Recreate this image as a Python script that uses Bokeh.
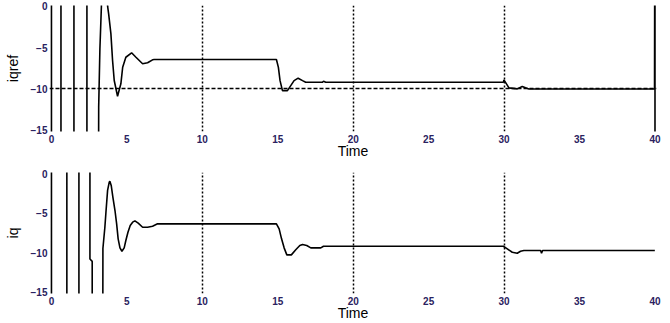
from bokeh.plotting import figure
from bokeh.layouts import column
from bokeh.models import Range1d, FixedTicker
from bokeh.embed import file_html
from bokeh.resources import INLINE

# ---- data ----
time_iqref = [0.0, 0.0, 0.63, 0.63, 1.49, 1.49, 2.35, 2.35, 3.10, 3.13,
              3.21, 3.31, 3.40, 3.62, 3.72, 3.79, 3.94, 4.05, 4.16, 4.38,
              4.60, 4.72, 4.93, 5.31, 5.60, 6.04, 6.37, 6.70, 6.81, 14.91,
              15.04, 15.15, 15.31, 15.64, 15.86, 16.08, 16.35, 16.64, 16.85, 17.95,
              18.03, 18.18, 29.95, 29.99, 30.32, 30.87, 31.20, 31.42, 31.64, 39.97,
              40.0, 40.0]
iqref = [-40, 40, 40, -40, -40, 40, 40, -40, -40, -12.2,
         -5.2, 0.0, 20, 20, 0.0, -0.92, -3.34, -6.57, -8.98, -10.88,
         -9.38, -7.38, -6.17, -5.63, -6.17, -6.96, -6.84, -6.48, -6.44, -6.44,
         -7.4, -9.0, -10.2, -10.2, -9.6, -9.0, -8.7, -9.0, -9.2, -9.2,
         -9.07, -9.2, -9.2, -8.9, -9.87, -9.99, -9.71, -9.87, -10.0, -10.0,
         30, -40]

time_iq = [0.0, 0.0, 1.02, 1.02, 1.82, 1.82, 2.54, 2.55, 2.55, 2.70,
           2.70, 2.71, 3.39, 3.41, 3.54, 3.61, 3.72, 3.83, 3.87, 3.96,
           4.07, 4.21, 4.32, 4.42, 4.54, 4.67, 4.82, 4.93, 5.07, 5.22,
           5.38, 5.53, 5.75, 6.04, 6.37, 6.70, 7.03, 14.91, 15.09, 15.25,
           15.42, 15.60, 15.90, 16.19, 16.46, 16.64, 16.92, 17.19, 17.85, 18.03,
           29.95, 30.21, 30.54, 30.87, 31.09, 31.31, 32.42, 32.48, 32.55, 39.99]
iq = [-40, 40, 40, -40, -40, 40, 40, 0.0, -10.8, -11.1,
      -15.0, -40, -40, -9.47, -6.77, -4.9, -2.1, -1.06, -0.94, -1.48,
      -2.96, -4.65, -6.34, -8.24, -9.38, -9.81, -9.38, -8.45, -7.4, -6.55,
      -6.13, -5.96, -6.26, -6.77, -6.77, -6.64, -6.34, -6.34, -6.97, -8.24,
      -9.38, -10.27, -10.27, -9.63, -9.09, -8.96, -9.09, -9.38, -9.38, -9.18,
      -9.18, -9.51, -9.94, -10.06, -9.81, -9.72, -9.72, -10.06, -9.72, -9.72]

x_ticks = [0, 5, 10, 15, 20, 25, 30, 35, 40]
y_ticks = [0, -5, -10, -15]
grid_times = [10, 20, 30]
ref_levels = [-10]
x_label = "Time"
y_label_top = "iqref"
y_label_bottom = "iq"

FONT = "Liberation Sans"


def make_fig(height, border_top, border_bottom, ylabel, y_start, y_end):
    p = figure(width=670, height=height, output_backend="svg", toolbar_location=None,
               x_range=Range1d(-0.13, 40.1), y_range=Range1d(y_start, y_end),
               min_border_left=49, min_border_right=14,
               min_border_top=border_top, min_border_bottom=border_bottom)
    p.outline_line_color = None
    p.background_fill_color = "white"
    p.border_fill_color = "white"
    p.xaxis.ticker = FixedTicker(ticks=x_ticks)
    p.yaxis.ticker = FixedTicker(ticks=y_ticks)
    for ax in (p.xaxis[0], p.yaxis[0]):
        ax.axis_line_color = None
        ax.major_tick_line_color = None
        ax.minor_tick_line_color = None
        ax.major_tick_out = 0
        ax.major_tick_in = 0
        ax.minor_tick_out = 0
        ax.major_label_text_font = FONT
        ax.major_label_text_font_size = "10px"
        ax.major_label_text_font_style = "bold"
        ax.major_label_text_color = "#2a2260"
        ax.axis_label_text_font = FONT
        ax.axis_label_text_font_size = "14px"
        ax.axis_label_text_font_style = "normal"
        ax.axis_label_text_color = "black"
    p.xaxis.axis_label = x_label
    p.yaxis.axis_label = ylabel
    p.xaxis.major_label_standoff = 3
    p.xaxis.axis_label_standoff = -3
    p.yaxis.major_label_standoff = 2
    p.yaxis.axis_label_standoff = 7
    p.xgrid.ticker = FixedTicker(ticks=grid_times)
    p.xgrid.grid_line_color = "black"
    p.xgrid.grid_line_dash = "2 2"
    p.xgrid.grid_line_width = 1.5
    p.ygrid.visible = False
    return p


p1 = make_fig(161, 5, 30, y_label_top, -15.145, 0.085)
p1.ygrid.visible = True
p1.ygrid.ticker = FixedTicker(ticks=ref_levels)
p1.ygrid.grid_line_color = "black"
p1.ygrid.grid_line_dash = "4 2"
p1.ygrid.grid_line_width = 1.5
p1.line(time_iqref, iqref, line_color="black", line_width=1.6)

p2 = make_fig(162, 11, 30, y_label_bottom, -15.165, 0.165)
p2.line(time_iq, iq, line_color="black", line_width=1.6)

layout = column(p1, p2, spacing=0)

open("out.html", "w").write(file_html(layout, INLINE))
